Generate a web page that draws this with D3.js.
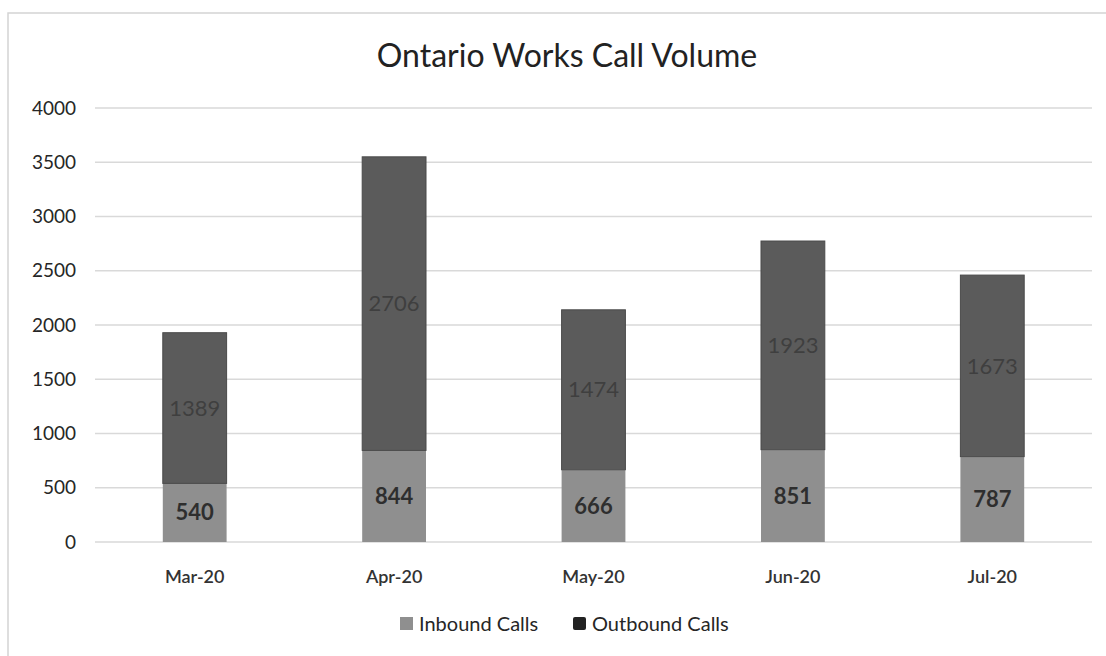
<!DOCTYPE html>
<html>
<head>
<meta charset="utf-8">
<script src="https://cdn.jsdelivr.net/npm/d3@7"></script>
<style>
    body { margin: 0; background: #fff; }
    svg text { font-family: Lato, "Open Sans", sans-serif; }
</style>
</head>
<body>
<div class="visualGraph"></div>
<script>
const months = ["Mar-20", "Apr-20", "May-20", "Jun-20", "Jul-20"];
const inbound = [540, 844, 666, 851, 787];
const outbound = [1389, 2706, 1474, 1923, 1673];
const seriesNames = ["Inbound Calls", "Outbound Calls"];
const yTicks = [0, 500, 1000, 1500, 2000, 2500, 3000, 3500, 4000];

const width = 1106, height = 656;
const colors = { inbound: "#8f8f8f", outbound: "#5b5b5b" };

const svg = d3.select(".visualGraph")
    .append("svg")
    .attr("width", width)
    .attr("height", height)
    .attr("viewBox", [0, 0, width, height]);

// chart frame
svg.append("rect")
    .attr("x", 8).attr("y", 13)
    .attr("width", width + 20).attr("height", height)
    .attr("fill", "#fff")
    .attr("stroke", "#d4d4d4")
    .attr("stroke-width", 1.5);

const x = d3.scaleBand()
    .domain(months)
    .range([95, 1092])
    .paddingInner(0.68)
    .paddingOuter(0.34);

const y = d3.scaleLinear()
    .domain([0, 4000])
    .range([542, 108]);

// gridlines
svg.append("g")
    .selectAll("line")
    .data(yTicks)
    .join("line")
    .attr("x1", 95).attr("x2", 1092)
    .attr("y1", d => y(d)).attr("y2", d => y(d))
    .attr("stroke", "#d9d9d9")
    .attr("stroke-width", 1.5);

// y axis labels
const yAxis = svg.append("g")
    .attr("transform", "translate(76,0)")
    .call(d3.axisLeft(y).tickValues(yTicks).tickFormat(d3.format("d")).tickSize(0).tickPadding(0));
yAxis.select(".domain").remove();
yAxis.selectAll("text")
    .attr("font-size", 19)
    .attr("fill", "#262626");

// x axis labels
const xAxis = svg.append("g")
    .attr("transform", "translate(0,570)")
    .call(d3.axisBottom(x).tickSize(0).tickPadding(0));
xAxis.select(".domain").remove();
xAxis.selectAll("text")
    .attr("font-size", 18)
    .attr("font-weight", 600)
    .attr("fill", "#333");

const rows = months.map((m, i) => ({ month: m, inbound: inbound[i], outbound: outbound[i] }));
const stacked = d3.stack().keys(["inbound", "outbound"])(rows);

const bars = svg.append("g");
stacked.forEach(layer => {
    bars.append("g")
        .selectAll("rect")
        .data(layer)
        .join("rect")
        .attr("x", d => x(d.data.month))
        .attr("y", d => y(d[1]))
        .attr("width", x.bandwidth())
        .attr("height", d => y(d[0]) - y(d[1]))
        .attr("fill", colors[layer.key])
        .attr("stroke", layer.key === "outbound" ? "#4a4a4a" : "none")
        .attr("stroke-width", 1);

    bars.append("g")
        .selectAll("text")
        .data(layer)
        .join("text")
        .attr("x", d => x(d.data.month) + x.bandwidth() / 2)
        .attr("y", d => (y(d[0]) + y(d[1])) / 2)
        .attr("dy", "0.35em")
        .attr("text-anchor", "middle")
        .attr("font-size", 22)
        .attr("font-weight", layer.key === "inbound" ? 700 : 400)
        .attr("fill", layer.key === "inbound" ? "#2e2e2e" : "#3f3f3f")
        .text(d => d.data[layer.key]);
});

// title
svg.append("text")
    .attr("x", 567).attr("y", 67)
    .attr("text-anchor", "middle")
    .attr("font-size", 32)
    .attr("fill", "#222")
    .text("Ontario Works Call Volume");

// legend
const legend = svg.append("g").attr("transform", "translate(400,624)");
const legendX = [0, 173];
seriesNames.forEach((name, i) => {
    const g = legend.append("g").attr("transform", `translate(${legendX[i]},0)`);
    g.append("rect")
        .attr("x", 0).attr("y", -7)
        .attr("width", 13).attr("height", 13)
        .attr("rx", i === 1 ? 2 : 0)
        .attr("fill", i === 0 ? colors.inbound : "#222");
    g.append("text")
        .attr("x", 19).attr("y", 0)
        .attr("dy", "0.35em")
        .attr("font-size", 20)
        .attr("fill", "#262626")
        .text(name);
});
</script>
</body>
</html>
